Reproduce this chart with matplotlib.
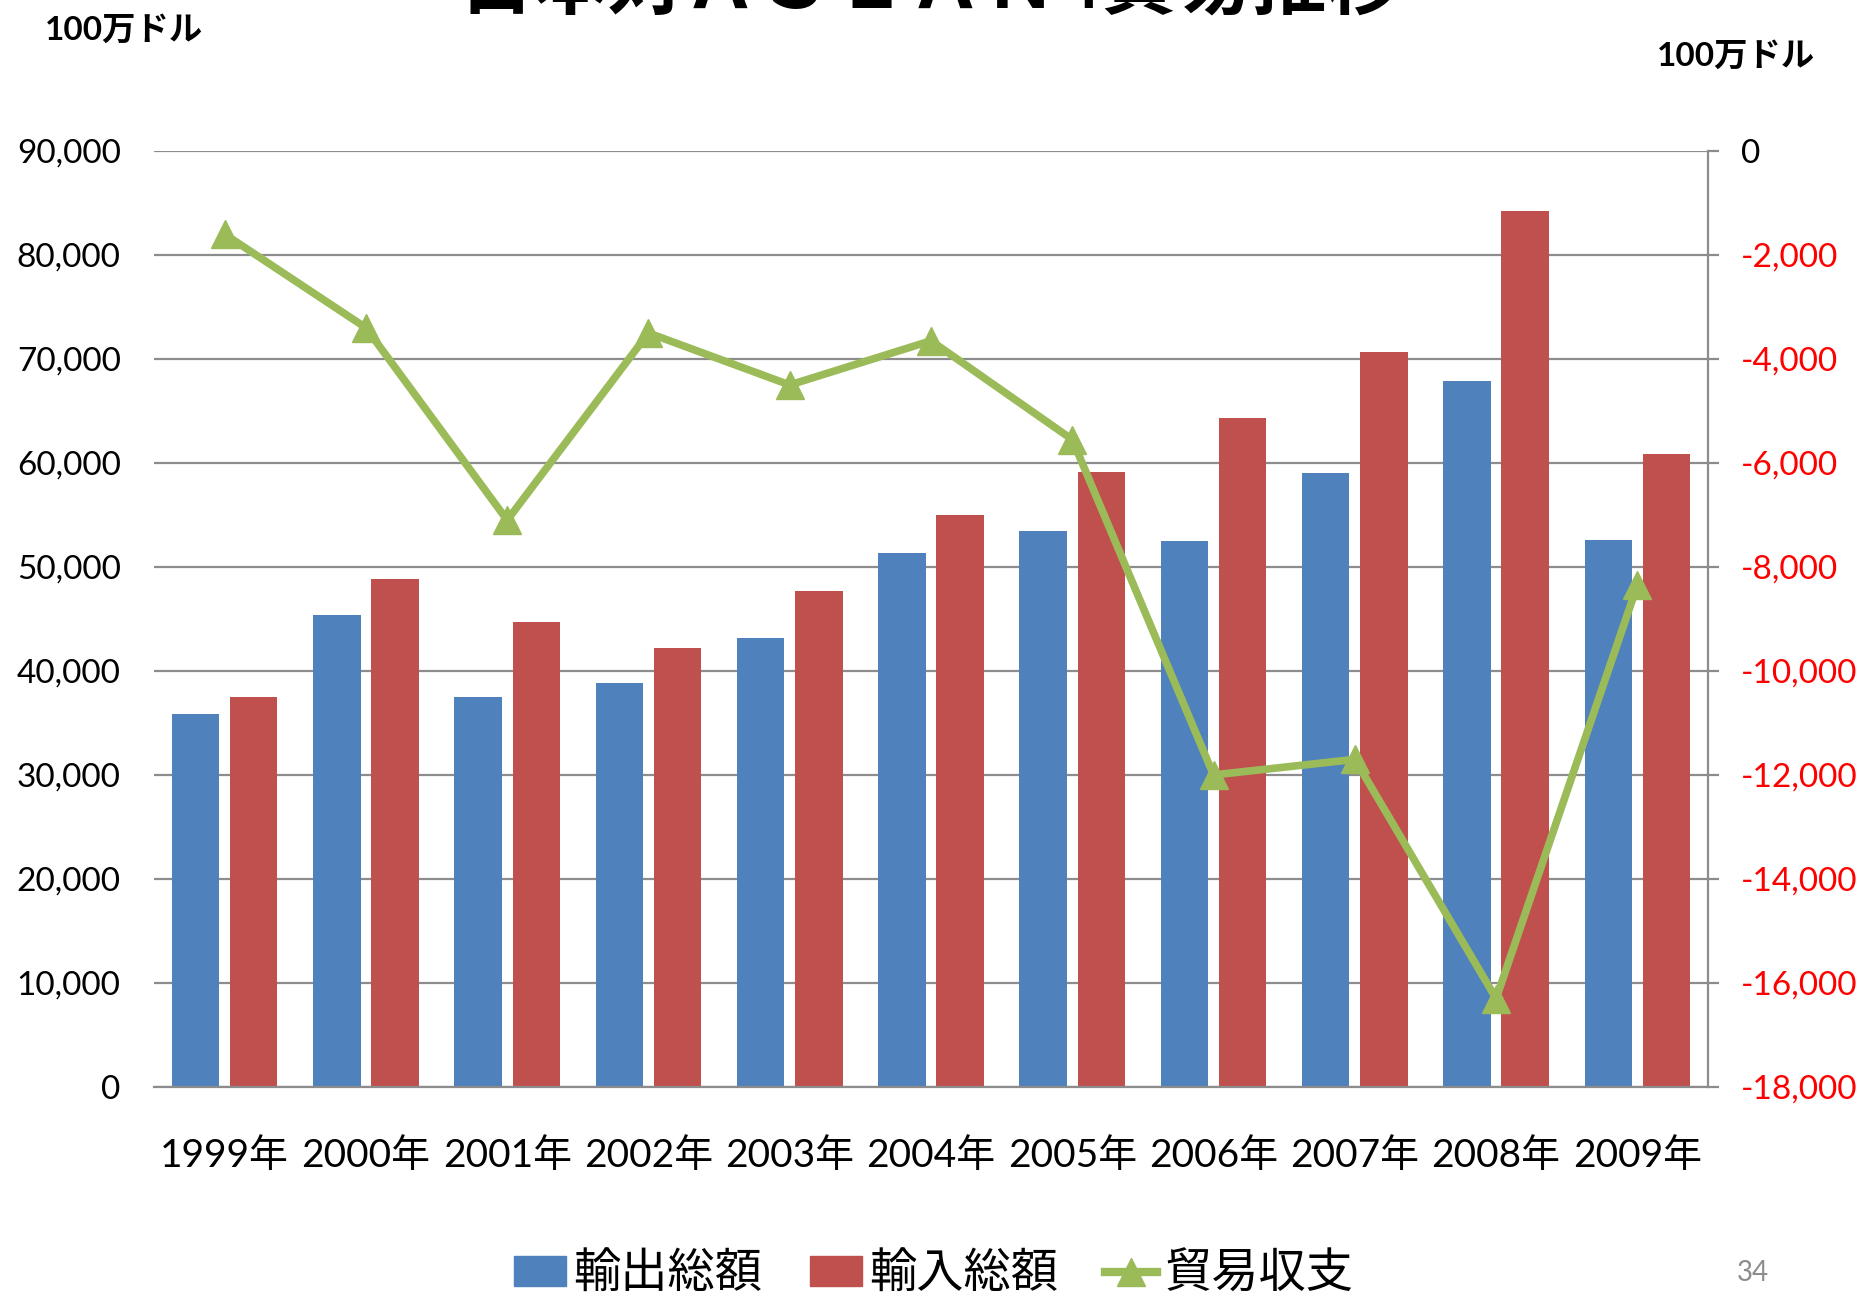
import matplotlib
matplotlib.use("Agg")
import matplotlib.pyplot as plt
import numpy as np
from matplotlib.lines import Line2D
from matplotlib.patches import Patch

plt.rcParams['font.family'] = ['Lato', 'Noto Sans CJK JP', 'DejaVu Sans']

# 日本対ASEAN4 貿易（100万ドル）
years = ["1999年", "2000年", "2001年", "2002年", "2003年", "2004年",
         "2005年", "2006年", "2007年", "2008年", "2009年"]
exports = [35900, 45400, 37500, 38800, 43200, 51300, 53500, 52500, 59000, 67900, 52600]
imports = [37500, 48800, 44700, 42200, 47700, 55000, 59100, 64300, 70700, 84200, 60900]
balance = [-1600, -3400, -7100, -3500, -4500, -3650, -5550, -12000, -11700, -16300, -8350]

left_ticks = list(range(0, 90001, 10000))
right_ticks = list(range(-18000, 1, 2000))

BLUE = "#4F81BD"
RED = "#C0504D"
GREEN = "#9BBB59"
GRID = "#8C8C8C"

fig = plt.figure(figsize=(18.6, 12.96), dpi=100)
ax = fig.add_axes([0.0828, 0.1613, 0.8355, 0.7222])

x = np.arange(len(years))
w = 0.336
off = 0.206
ax.bar(x - off, exports, width=w, color=BLUE, zorder=2)
ax.bar(x + off, imports, width=w, color=RED, zorder=2)

ax.set_xlim(-0.5, len(years) - 0.5)
ax.set_ylim(0, 90000)
ax.set_yticks(left_ticks)
ax.set_yticklabels([f"{v:,}" for v in left_ticks], fontsize=24)
ax.set_xticks(x)
ax.set_xticklabels(years, fontsize=28)
ax.tick_params(axis='y', length=0, pad=24)
ax.tick_params(axis='x', length=0, pad=37)
ax.yaxis.grid(True, color=GRID, linewidth=1.6, zorder=0)
ax.set_axisbelow(True)
for s in ['top', 'left', 'right']:
    ax.spines[s].set_visible(False)
ax.spines['bottom'].set_color(GRID)
ax.spines['bottom'].set_linewidth(1.6)

ax2 = ax.twinx()
ax2.plot(x, balance, color=GREEN, linewidth=5.5, marker='^', markersize=20,
         markeredgecolor=GREEN, markerfacecolor=GREEN, zorder=3)
ax2.set_ylim(-18000, 0)
ax2.set_yticks(right_ticks)
ax2.set_yticklabels([f"{v:,}" for v in right_ticks], fontsize=24)
for lbl, v in zip(ax2.get_yticklabels(), right_ticks):
    lbl.set_color("black" if v == 0 else "#FF0000")
ax2.tick_params(axis='y', length=8, width=1.6, color=GRID, pad=16)
for s in ['top', 'left', 'bottom']:
    ax2.spines[s].set_visible(False)
ax2.spines['right'].set_color(GRID)
ax2.spines['right'].set_linewidth(1.6)

# 見出しと単位
fig.text(0.5, 1 - 22 / 1296, "日本対ＡＳＥＡＮ4貿易推移", ha='center', va='bottom',
         fontsize=54, fontweight='bold')
fig.text(45 / 1860, 1 - 30 / 1296, "100万ドル", ha='left', va='center',
         fontsize=24, fontweight='bold')
fig.text(1815 / 1860, 1 - 56 / 1296, "100万ドル", ha='right', va='center',
         fontsize=24, fontweight='bold')

handles = [
    Patch(facecolor=BLUE, edgecolor=BLUE),
    Patch(facecolor=RED, edgecolor=RED),
    Line2D([], [], color=GREEN, linewidth=6, marker='^', markersize=20),
]
fig.legend(handles, ["輸出総額", "輸入総額", "貿易収支"], loc='center',
           bbox_to_anchor=(0.502, 1 - 1274 / 1296), ncol=3, frameon=False,
           fontsize=34, handlelength=1.1, handleheight=0.6, handletextpad=0.15,
           columnspacing=1.0)

fig.text(1753 / 1860, 1 - 1273 / 1296, "34", ha='center', va='center',
         fontsize=20, color="#8C8C8C")

fig.savefig("out.png", dpi=100)
